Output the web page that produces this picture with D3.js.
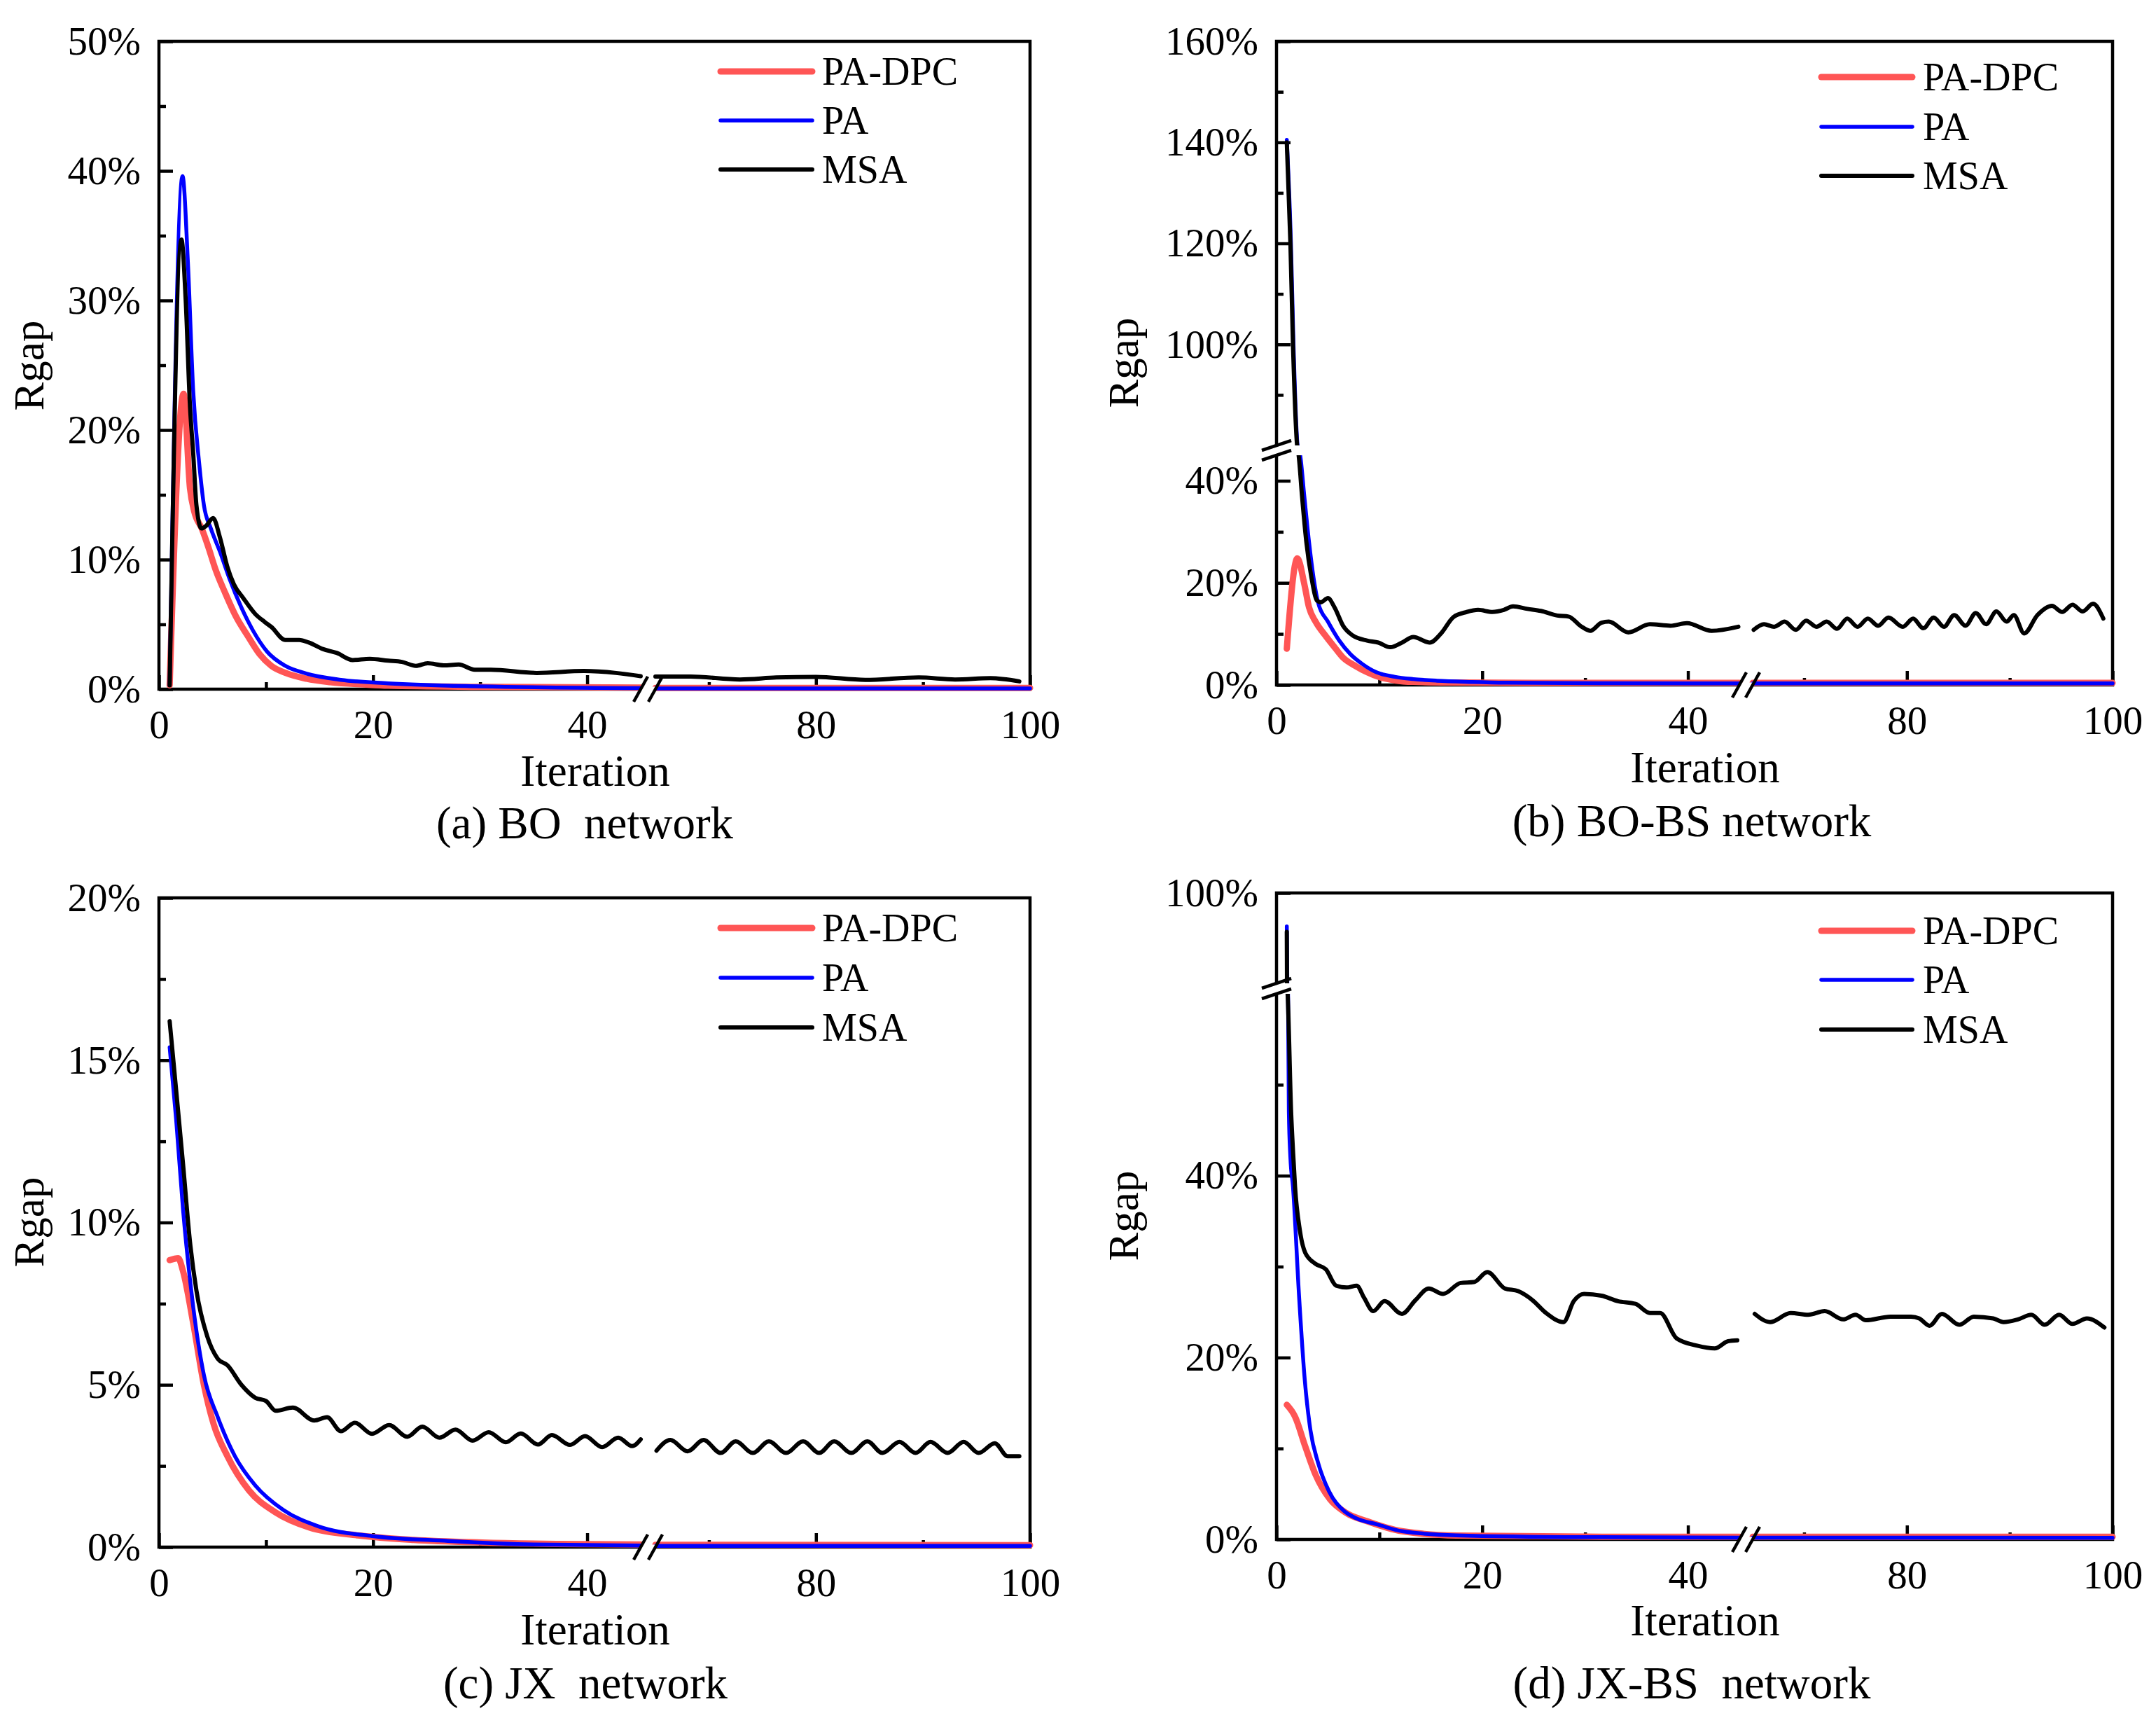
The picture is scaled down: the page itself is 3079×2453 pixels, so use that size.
<!DOCTYPE html>
<html>
<head>
<meta charset="utf-8">
<script src="https://cdn.jsdelivr.net/npm/d3@7"></script>
<style>
  body { margin: 0; background: #fff; }
  svg { display: block; }
  text { font-family: "Liberation Serif", "Times New Roman", serif; fill: #000; }
</style>
</head>
<body>
<svg id="chart" width="3079" height="2453"></svg>
<script>
// ---------------- DATA ----------------
const seriesNames = ["PA-DPC", "PA", "MSA"];
const xMajorTicks = [0, 20, 40, 80, 100];
const xMinorTicks = [10, 30, 70, 90];
const xBreak = [45, 65];

// (a) BO network
const boYMajor = [0, 10, 20, 30, 40, 50];
const boYMinor = [5, 15, 25, 35, 45];
const boPaDpc = [[1,0.3],[2.3,22.8],[2.9,15.5],[3.3,13.7],[4,12.4],[4.6,11],[5.3,9.2],[6.2,7.4],[7.2,5.6],[8.3,4.1],[9.4,2.7],[10.5,1.8],[11.8,1.26],[13.8,0.8],[16,0.54],[19.2,0.36],[21.4,0.27],[30,0.18],[45,0.12],[65,0.1],[100,0.1]];
const boPa = [[1,0.3],[2.2,39.6],[2.7,33],[3.2,23],[3.75,17.5],[4.2,14.2],[4.85,12.4],[5.7,10.6],[6.6,8.5],[7.7,6.3],[8.8,4.5],[10.1,2.9],[11.8,1.8],[13.8,1.2],[17,0.72],[21.4,0.45],[30,0.22],[45,0.08],[65,0.05],[100,0.05]];
const boMsa = [[1,0.3],[2.1,34.7],[2.5,30],[2.9,21.8],[3.2,18.2],[3.5,14.2],[3.97,12.4],[4.4,12.6],[5.06,13.2],[5.7,11.7],[6.37,9.5],[7,8.1],[7.9,7],[9,5.8],[9.86,5.2],[10.5,4.8],[11.8,3.8],[13.1,3.8],[14,3.6],[15.3,3.1],[16.6,2.8],[18.1,2.25],[19.7,2.34],[21.4,2.2],[22.7,2.1],[24,1.8],[25.1,2.0],[26.6,1.84],[28,1.9],[29.5,1.5],[31,1.5],[35.3,1.25],[39.7,1.4],[42.7,1.25],[45,1.0],
  [65,0.97],[68.3,0.97],[72.9,0.75],[76.3,0.9],[80,0.95],[84.6,0.72],[89.6,0.9],[93,0.75],[96.3,0.85],[99,0.6]];

// (b) BO-BS network
const bobsYMajor = [0, 20, 40, 100, 120, 140, 160];
const bobsYMinor = [10, 30, 90, 110, 130, 150];
const bobsYBreak = [45, 80];
const bobsPaDpc = [[1,7.1],[2.03,24.8],[2.7,19.8],[3.16,15.2],[3.8,12.4],[4.74,9.7],[5.64,7.4],[6.5,5.3],[7.7,3.7],[8.8,2.5],[9.9,1.6],[11.5,0.9],[13.3,0.6],[16.7,0.48],[25,0.42],[45,0.4],[65,0.4],[100,0.4]];
const bobsPa = [[1,140.5],[1.4,120],[1.65,100],[2.05,80],[2.3,45],[2.7,37],[3.16,28],[3.6,21],[4.06,16],[5,12.4],[6.1,8.7],[7.2,6],[8.35,4.1],[9.7,2.5],[11.5,1.6],[13.3,1.15],[15.6,0.83],[19,0.6],[22.3,0.46],[32,0.35],[45,0.3],[65,0.3],[100,0.3]];
const bobsMsa = [[1,140],[1.35,120],[1.6,100],[2.0,80],[2.15,45],[2.48,37],[2.9,28],[3.4,21],[3.95,16.5],[4.3,16.2],[5,17],[5.64,15.2],[6.5,11.5],[7.4,9.7],[8.8,8.7],[9.9,8.3],[11.06,7.4],[12.2,8.3],[13.3,9.4],[14.9,8.3],[16,10.1],[17.2,13.3],[18.5,14.3],[19.6,14.7],[21,14.3],[22.1,14.7],[23,15.4],[24.4,14.9],[25.7,14.5],[27.3,13.6],[28.4,13.4],[29.6,11.5],[30.5,10.6],[31.6,12.2],[32.3,12.4],[34.2,10.3],[36.3,11.9],[38.3,11.6],[39.9,12.1],[42.3,10.6],[44.9,11.4],
  [65.1,10.8],[66.1,11.9],[67.1,11.4],[68.1,12.4],[69.2,10.8],[70.2,12.6],[71.2,11.4],[72.2,12.4],[73.2,11.0],[74.2,13.0],[75.2,11.4],[76.2,13.0],[77.2,11.6],[78.2,13.2],[79.6,11.4],[80.6,13.0],[81.6,11.1],[82.6,13.2],[83.6,11.4],[84.6,13.7],[85.7,11.6],[86.7,14.1],[87.7,11.9],[88.7,14.4],[89.7,12.4],[90.4,13.7],[91.4,10.1],[92.7,13.7],[94.1,15.5],[95.1,14.3],[96.1,15.7],[97.1,14.4],[98.1,15.9],[99.1,13.0]];

// (c) JX network
const jxYMajor = [0, 5, 10, 15, 20];
const jxYMinor = [2.5, 7.5, 12.5, 17.5];
const jxPaDpc = [[1,8.84],[1.8,8.9],[2.25,8.5],[3.2,6.9],[4.2,5.0],[5.1,3.8],[6.4,2.8],[8.4,1.75],[10.9,1.07],[14.1,0.6],[18.6,0.36],[23.8,0.22],[30.2,0.14],[40,0.09],[45,0.08],[65,0.07],[100,0.06]];
const jxPa = [[1,15.4],[1.6,13.2],[2.25,10.4],[3.2,7.4],[4.2,5.3],[5.5,4.0],[7.1,2.8],[9,1.9],[11.6,1.15],[14.8,0.65],[19.9,0.34],[27,0.19],[35,0.08],[45,0.05],[65,0.04],[100,0.04]];
const jxMsa = [[1,16.2],[1.6,14.1],[2.25,11.8],[2.9,9.4],[3.5,7.9],[4.5,6.5],[5.5,5.8],[6.4,5.6],[7.7,5.0],[9,4.6],[10,4.5],[10.9,4.2],[12.5,4.3],[14.5,3.9],[15.7,4.0],[17,3.57],[18.3,3.83],[19.9,3.49],[21.5,3.76],[23.2,3.4],[24.6,3.71],[26.2,3.37],[27.7,3.62],[29.3,3.28],[30.8,3.54],[32.4,3.23],[33.8,3.5],[35.4,3.16],[36.7,3.45],[38.4,3.15],[39.8,3.42],[41.4,3.08],[42.9,3.37],[44.2,3.11],[45,3.32],
  [65.1,2.97],[66.4,3.3],[68.0,2.95],[69.5,3.3],[71.1,2.9],[72.5,3.26],[74.1,2.9],[75.6,3.26],[77.2,2.9],[78.8,3.26],[80.3,2.9],[81.7,3.26],[83.3,2.9],[84.8,3.26],[86.2,2.9],[87.8,3.24],[89.3,2.9],[90.7,3.24],[92.3,2.9],[93.8,3.24],[95.2,2.9],[96.7,3.2],[97.9,2.8],[99,2.8]];

// (d) JX-BS network
const jxbsYMajor = [0, 20, 40, 100];
const jxbsYMinor = [10, 30, 50];
const jxbsYBreak = [60, 90];
const jxbsPaDpc = [[1,14.8],[1.8,13.5],[2.8,10.2],[3.8,7.1],[5.2,4.4],[6.8,2.9],[8.8,2.0],[12.2,0.9],[17.5,0.43],[30,0.3],[45,0.28],[65,0.28],[100,0.28]];
const jxbsPa = [[1,96.3],[1.05,90],[1.12,60],[1.2,47],[1.35,42],[1.6,38.8],[2.2,26.6],[2.75,17.5],[3.3,12],[4.05,8.4],[5.1,5.3],[6.5,3.2],[7.8,2.3],[9.8,1.65],[12.2,0.9],[17.5,0.45],[30,0.25],[45,0.2],[65,0.2],[100,0.18]];
const jxbsMsa = [[1,95.7],[1.02,90],[1.08,60],[1.42,47],[1.62,42.4],[1.8,38.8],[2.27,34],[2.8,31.5],[3.8,30.3],[4.8,29.7],[5.8,27.9],[6.8,27.7],[7.8,27.9],[8.5,26.6],[9.4,25.1],[10.5,26.2],[12.2,24.8],[13.5,26.3],[14.8,27.6],[16.2,27],[17.9,28.2],[19.2,28.3],[20.5,29.4],[22.2,27.6],[23.5,27.3],[24.9,26.3],[26.2,24.9],[27.9,23.9],[28.9,26.2],[29.9,27],[31.6,26.8],[33.2,26.2],[34.9,25.9],[36.3,24.9],[37.3,24.9],[38.9,22.1],[40.9,21.3],[42.6,21.0],[43.9,21.8],[44.8,21.9],
  [65.2,24.8],[66.7,23.9],[68.7,24.9],[70.4,24.7],[72,25.1],[73.8,24.2],[75,24.7],[76,24.1],[78.4,24.5],[80.4,24.5],[81.2,24.3],[82.2,23.5],[83.4,24.8],[85.1,23.6],[86.5,24.5],[88.4,24.3],[89.4,23.9],[90.8,24.2],[92.1,24.7],[93.4,23.6],[94.8,24.7],[96.1,23.7],[97.5,24.3],[99.2,23.3]];

// ---------------- STYLE / LAYOUT ----------------
const colors = ["#ff5555", "#0000ff", "#000000"];
const widths = [9, 5.5, 6];
const FONT_TICK = 57, FONT_TITLE = 63, FONT_CAP = 65, FONT_YLAB = 61, FONT_LEG = 56;

const panels = [
  { caption: "(a) BO  network", series: [boPaDpc, boPa, boMsa], yMajor: boYMajor, yMinor: boYMinor,
    yDomain: [0, 50], yBreak: null,
    box: { l: 227, r: 1471, t: 59, b: 984 }, xGap: [915, 936],
    title: [850, 1122], cap: [835, 1197], ylab: [62, 522],
    leg: { x1: 1029, x2: 1160, tx: 1174, ys: [102, 172, 242] } },
  { caption: "(b) BO-BS network", series: [bobsPaDpc, bobsPa, bobsMsa], yMajor: bobsYMajor, yMinor: bobsYMinor,
    yDomain: [0, 160], yBreak: bobsYBreak,
    box: { l: 1823, r: 3017, t: 59, b: 978 }, xGap: [2484, 2503], yGap: [650, 636],
    title: [2435, 1117], cap: [2416, 1194], ylab: [1625, 518],
    leg: { x1: 2601, x2: 2731, tx: 2746, ys: [110, 181, 251] } },
  { caption: "(c) JX  network", series: [jxPaDpc, jxPa, jxMsa], yMajor: jxYMajor, yMinor: jxYMinor,
    yDomain: [0, 20], yBreak: null,
    box: { l: 227, r: 1471, t: 1282, b: 2209 }, xGap: [915, 936],
    title: [850, 2348], cap: [836, 2425], ylab: [62, 1745],
    leg: { x1: 1029, x2: 1160, tx: 1174, ys: [1325, 1396, 1467] } },
  { caption: "(d) JX-BS  network", series: [jxbsPaDpc, jxbsPa, jxbsMsa], yMajor: jxbsYMajor, yMinor: jxbsYMinor,
    yDomain: [0, 100], yBreak: jxbsYBreak,
    box: { l: 1823, r: 3017, t: 1275, b: 2198 }, xGap: [2484, 2503], yGap: [1419, 1404],
    title: [2435, 2335], cap: [2416, 2425], ylab: [1625, 1736],
    leg: { x1: 2601, x2: 2731, tx: 2746, ys: [1329, 1399, 1470] } }
];

const svg = d3.select("#chart");
svg.append("rect").attr("width", 3079).attr("height", 2453).attr("fill", "#fff");

panels.forEach(p => {
  const B = p.box;
  const g = svg.append("g");

  const x = d3.scaleLinear()
    .domain([0, xBreak[0], xBreak[1], 100])
    .range([B.l, p.xGap[0], p.xGap[1], B.r]);

  let y;
  if (p.yBreak) {
    y = d3.scaleLinear()
      .domain([p.yDomain[0], p.yBreak[0], p.yBreak[1], p.yDomain[1]])
      .range([B.b, p.yGap[0], p.yGap[1], B.t]);
  } else {
    y = d3.scaleLinear().domain(p.yDomain).range([B.b, B.t]);
  }

  // frame
  g.append("rect")
    .attr("x", B.l).attr("y", B.t)
    .attr("width", B.r - B.l).attr("height", B.b - B.t)
    .attr("fill", "none").attr("stroke", "#000").attr("stroke-width", 4.5);

  // y axis ticks
  const yAx = g.append("g").attr("transform", `translate(${B.l},0)`)
    .call(d3.axisLeft(y).tickValues(p.yMajor).tickSize(-20).tickPadding(26).tickFormat(d => d + "%"));
  const yAxMin = g.append("g").attr("transform", `translate(${B.l},0)`)
    .call(d3.axisLeft(y).tickValues(p.yMinor).tickSize(-10).tickFormat(""));
  // x axis ticks
  const xAx = g.append("g").attr("transform", `translate(0,${B.b})`)
    .call(d3.axisBottom(x).tickValues(xMajorTicks).tickSize(-20).tickPadding(30).tickFormat(d => d));
  const xAxMin = g.append("g").attr("transform", `translate(0,${B.b})`)
    .call(d3.axisBottom(x).tickValues(xMinorTicks).tickSize(-10).tickFormat(""));

  [yAx, yAxMin, xAx, xAxMin].forEach(a => {
    a.select(".domain").remove();
    a.selectAll("line").attr("stroke", "#000").attr("stroke-width", 4.5);
    a.selectAll("text")
      .attr("font-family", '"Liberation Serif", "Times New Roman", serif')
      .attr("font-size", FONT_TICK).attr("fill", "#000");
  });

  // data lines, split at the x break
  const line = d3.line().x(d => x(d[0])).y(d => y(d[1])).curve(d3.curveMonotoneX);
  p.series.forEach((s, i) => {
    const seg1 = s.filter(d => d[0] <= xBreak[0]);
    const seg2 = s.filter(d => d[0] >= xBreak[1]);
    [seg1, seg2].forEach(seg => {
      g.append("path").datum(seg)
        .attr("d", line)
        .attr("fill", "none")
        .attr("stroke", colors[i])
        .attr("stroke-width", widths[i])
        .attr("stroke-linejoin", "round")
        .attr("stroke-linecap", "round");
    });
  });

  // x-axis break: gap in the bottom frame + slashes
  g.append("rect")
    .attr("x", p.xGap[0]).attr("y", B.b - 3.5)
    .attr("width", p.xGap[1] - p.xGap[0]).attr("height", 7)
    .attr("fill", "#fff");
  p.xGap.forEach(cx => {
    g.append("line")
      .attr("x1", cx - 10).attr("y1", B.b + 18)
      .attr("x2", cx + 10).attr("y2", B.b - 18)
      .attr("stroke", "#000").attr("stroke-width", 4.5);
  });

  // y-axis break: white band + slashes
  if (p.yBreak) {
    const yLo = y(p.yBreak[0]), yHi = y(p.yBreak[1]);
    g.append("rect")
      .attr("x", B.l - 4).attr("y", yHi)
      .attr("width", B.r - B.l - 2).attr("height", yLo - yHi)
      .attr("fill", "#fff");
    [yLo, yHi].forEach(cy => {
      g.append("line")
        .attr("x1", B.l - 21).attr("y1", cy + 7)
        .attr("x2", B.l + 21).attr("y2", cy - 7)
        .attr("stroke", "#000").attr("stroke-width", 4.5);
    });
  }

  // legend
  seriesNames.forEach((name, i) => {
    const ly = p.leg.ys[i];
    g.append("line")
      .attr("x1", p.leg.x1).attr("x2", p.leg.x2)
      .attr("y1", ly).attr("y2", ly)
      .attr("stroke", colors[i]).attr("stroke-width", widths[i])
      .attr("stroke-linecap", "round");
    g.append("text")
      .attr("x", p.leg.tx).attr("y", ly + 19)
      .attr("font-size", FONT_LEG)
      .text(name);
  });

  // axis titles & caption
  g.append("text")
    .attr("x", p.title[0]).attr("y", p.title[1])
    .attr("text-anchor", "middle").attr("font-size", FONT_TITLE)
    .text("Iteration");
  g.append("text")
    .attr("transform", `translate(${p.ylab[0]},${p.ylab[1]}) rotate(-90)`)
    .attr("text-anchor", "middle").attr("font-size", FONT_YLAB)
    .text("Rgap");
  g.append("text")
    .attr("x", p.cap[0]).attr("y", p.cap[1])
    .attr("text-anchor", "middle").attr("font-size", FONT_CAP)
    .style("white-space", "pre")
    .text(p.caption);
});
</script>
</body>
</html>
